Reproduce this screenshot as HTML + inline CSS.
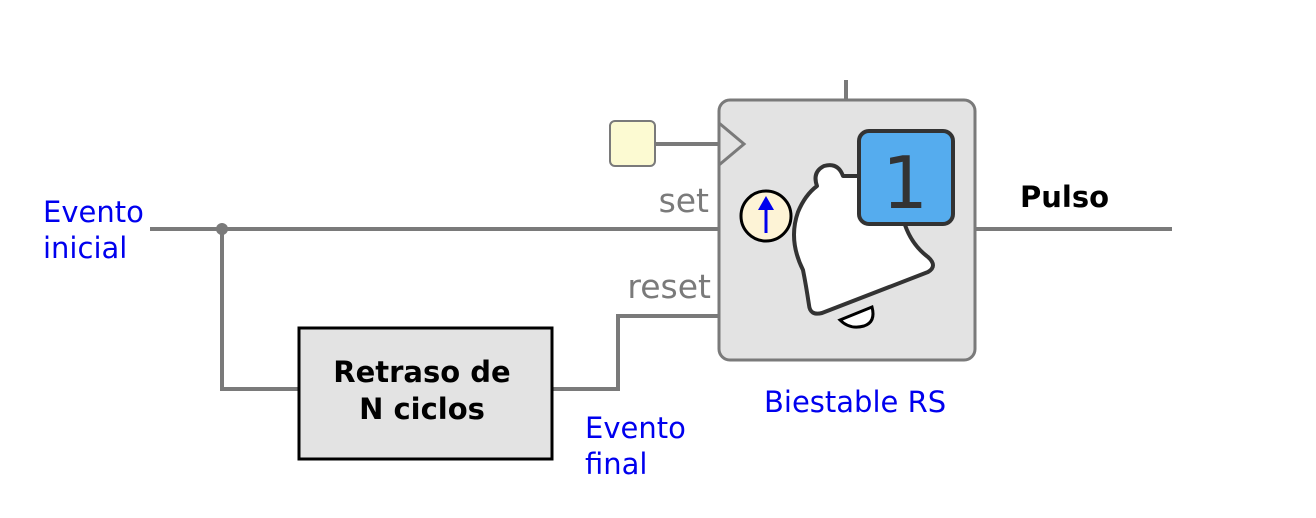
<!DOCTYPE html>
<html><head><meta charset="utf-8"><style>html,body{margin:0;padding:0;background:#fff}svg{display:block}</style></head>
<body>
<svg width="1316" height="518" viewBox="0 0 1316 518" xmlns="http://www.w3.org/2000/svg" font-family="DejaVu Sans, Liberation Sans, sans-serif">
<g stroke="#7a7a7a" stroke-width="4" fill="none">
<line x1="846" y1="80" x2="846" y2="100"/>
<line x1="655" y1="144" x2="719" y2="144"/>
<line x1="150" y1="229" x2="719" y2="229"/>
<polyline points="222,229 222,389 299,389"/>
<polyline points="552,389 618,389 618,316 719,316"/>
<line x1="975" y1="229" x2="1172" y2="229"/>
</g>
<circle cx="222" cy="229" r="6" fill="#7a7a7a"/>
<rect x="610" y="121" width="45" height="45" rx="5" fill="#fcfad2" stroke="#7a7a7a" stroke-width="2"/>
<rect x="719" y="100" width="256" height="260" rx="11" fill="#e3e3e3" stroke="#7a7a7a" stroke-width="3"/>
<polyline points="719,123 744,144 719,165" fill="none" stroke="#7a7a7a" stroke-width="3"/>
<rect x="299" y="328" width="253" height="131" fill="#e3e3e3" stroke="#000" stroke-width="3"/>
<text x="422" y="382" font-size="29" font-weight="bold" text-anchor="middle">Retraso de</text>
<text x="422" y="419" font-size="29" font-weight="bold" text-anchor="middle">N ciclos</text>
<text x="709" y="212" font-size="33" fill="#7a7a7a" text-anchor="end">set</text>
<text x="711" y="298" font-size="33" fill="#7a7a7a" text-anchor="end">reset</text>
<text x="1020" y="207" font-size="29" font-weight="bold">Pulso</text>
<g fill="#0000ee" font-size="29">
<text x="43" y="222">Evento</text><text x="43" y="258">inicial</text>
<text x="585" y="438">Evento</text><text x="585" y="474">final</text>
<text x="764" y="412">Biestable RS</text>
</g>
<circle cx="766" cy="216" r="25" fill="#fdf3d6" stroke="#000" stroke-width="3"/>
<line x1="766" y1="233" x2="766" y2="208" stroke="#0000ee" stroke-width="3"/>
<polygon points="758,210 766,196 774,210" fill="#0000ee"/>
<path d="M843,176 L859,176 L905,225 Q912,245 928,257 Q938,266 928,272 L822,313 Q810,316 809,305 Q806,285 803,270 Q788,240 798,212 Q805,195 817,186 Q812,172 824,166 Q838,162 843,176 Z" fill="#fff" stroke="#333" stroke-width="4" stroke-linejoin="round"/>
<path d="M840,320 L872,307 Q876,322 864,326 Q850,330 840,320 Z" fill="#fff" stroke="#000" stroke-width="3"/>
<rect x="859" y="131" width="94" height="93" rx="10" fill="#55acee" stroke="#333" stroke-width="4"/>
<text x="905" y="208" font-size="72" fill="#333" text-anchor="middle">1</text>
</svg>
</body></html>
